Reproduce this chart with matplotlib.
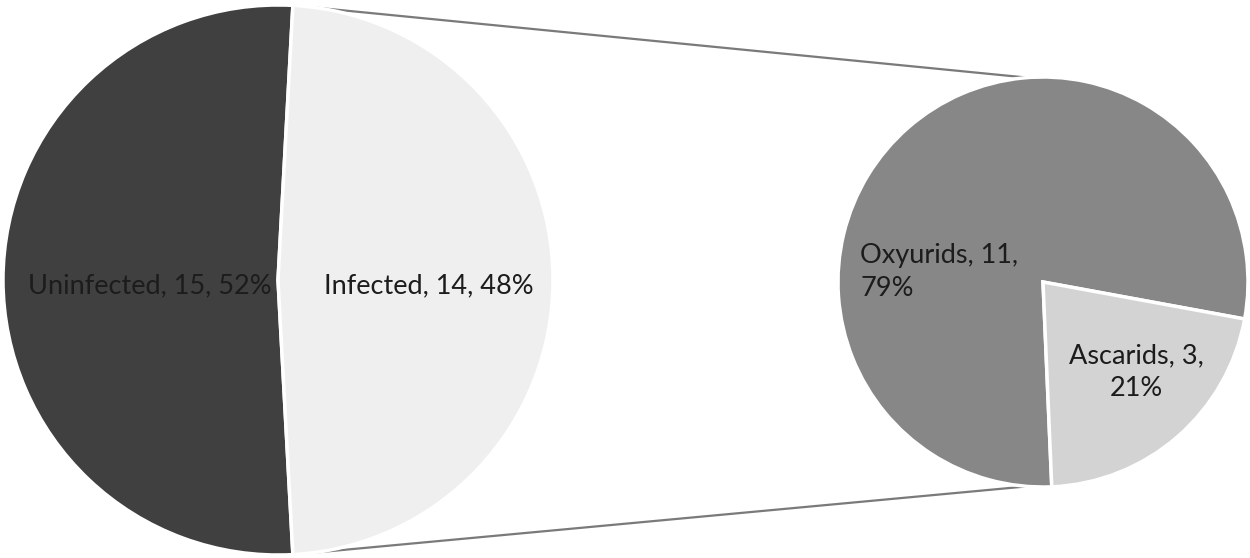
import matplotlib
matplotlib.use("Agg")
import matplotlib.pyplot as plt
import numpy as np

# main pie
main_labels = ["Uninfected", "Infected"]
main_counts = [15, 14]
main_colors = ["#404040", "#efefef"]

# breakdown of infected
sub_labels = ["Oxyurids", "Ascarids"]
sub_counts = [11, 3]
sub_colors = ["#878787", "#d3d3d3"]

plt.rcParams["font.family"] = ["Lato", "DejaVu Sans"]

W, H = 1250, 558
fig = plt.figure(figsize=(W / 100, H / 100), dpi=100)
ax = fig.add_axes([0, 0, 1, 1])

c1, r1 = (278, 278), 275
c2, r2 = (1043, 276), 205

# infected wedge centred on the right side, facing the second pie
half_inf = 180 * main_counts[1] / sum(main_counts)
ax.pie(main_counts, colors=main_colors, center=c1, radius=r1,
       startangle=half_inf, counterclock=True,
       wedgeprops=dict(edgecolor="white", linewidth=2.5))

ax.pie(sub_counts, colors=sub_colors, center=c2, radius=r2,
       startangle=-10.4, counterclock=True,
       wedgeprops=dict(edgecolor="white", linewidth=2.5))

# connector lines
a = np.deg2rad(half_inf)
top = (c1[0] + r1 * np.cos(a), c1[1] + r1 * np.sin(a))
bot = (c1[0] + r1 * np.cos(a), c1[1] - r1 * np.sin(a))
ax.plot([top[0], c2[0] - 12], [top[1], c2[1] + r2 - 1], color="#7a7a7a", lw=1.6,
        zorder=0)
ax.plot([bot[0], c2[0] - 12], [bot[1], c2[1] - r2 + 1], color="#7a7a7a", lw=1.6,
        zorder=0)

tot1 = sum(main_counts)
tot2 = sum(sub_counts)
txt = dict(fontsize=19.5, color="#1c1c1c", va="center")
ax.text(150, 272, f"{main_labels[0]}, {main_counts[0]}, {round(100 * main_counts[0] / tot1)}%",
        ha="center", **txt)
ax.text(429, 272, f"{main_labels[1]}, {main_counts[1]}, {round(100 * main_counts[1] / tot1)}%",
        ha="center", **txt)
ax.text(860, 286, f"{sub_labels[0]}, {sub_counts[0]},\n{round(100 * sub_counts[0] / tot2)}%",
        ha="left", multialignment="left", linespacing=1.4, **txt)
ax.text(1136, 186, f"{sub_labels[1]}, {sub_counts[1]},\n{round(100 * sub_counts[1] / tot2)}%",
        ha="center", multialignment="center", linespacing=1.4, **txt)

ax.set_xlim(0, W)
ax.set_ylim(0, H)
ax.set_aspect("auto")
ax.axis("off")

fig.savefig("out.png", dpi=100, facecolor="white")
